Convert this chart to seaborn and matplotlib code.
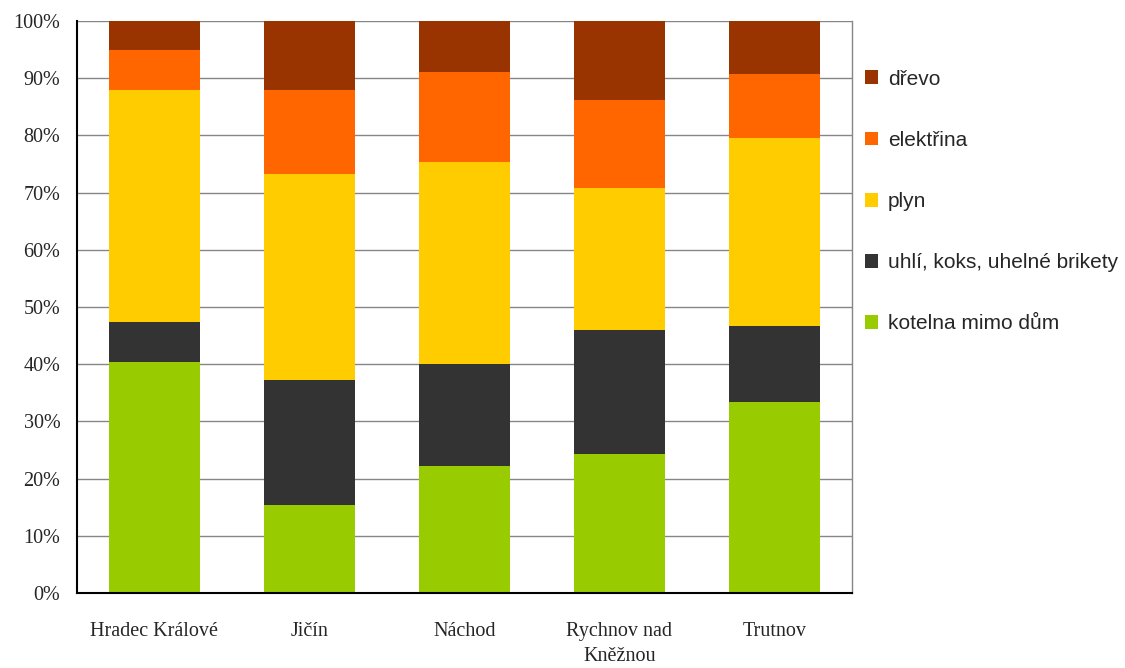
import matplotlib
matplotlib.use("Agg")
import matplotlib.pyplot as plt
import seaborn as sns
import numpy as np
import pandas as pd
from matplotlib.patches import Patch
from matplotlib.ticker import FixedLocator

categories = ["Hradec Králové", "Jičín", "Náchod", "Rychnov nad\nKněžnou", "Trutnov"]
series_names = ["kotelna mimo dům", "uhlí, koks, uhelné brikety", "plyn", "elektřina", "dřevo"]
kotelna = [40.4, 15.4, 22.2, 24.3, 33.4]
uhli = [7.0, 21.8, 17.8, 21.7, 13.3]
plyn = [40.5, 36.1, 35.3, 24.8, 32.8]
elektrina = [7.0, 14.6, 15.8, 15.4, 11.2]
drevo = [5.1, 12.1, 8.9, 13.8, 9.3]
colors = ["#99CC00", "#333333", "#FFCC00", "#FF6600", "#993300"]
yticks = [0, 10, 20, 30, 40, 50, 60, 70, 80, 90, 100]
ytick_labels = [f"{v}%" for v in yticks]

sns.set_theme(style="white")
serif = ["Liberation Serif", "DejaVu Serif"]
sans = ["Liberation Sans", "DejaVu Sans"]

series = [kotelna, uhli, plyn, elektrina, drevo]
cum = np.cumsum(np.array(series), axis=0)

fig = plt.figure(figsize=(11.25, 6.68), dpi=100)
ax = fig.add_axes([77/1125, 75/668, (852-77)/1125, (593-21)/668])

for i in range(len(series) - 1, -1, -1):
    df = pd.DataFrame({"cat": categories, "val": cum[i]})
    sns.barplot(data=df, x="cat", y="val", color=colors[i], width=0.59,
                saturation=1, ax=ax, linewidth=0, zorder=2)

ax.set_ylim(0, 100)
ax.set_xlim(-0.5, len(categories) - 0.5)
ax.set_yticks(yticks)
ax.set_yticklabels(ytick_labels, fontfamily=serif, fontsize=14.5)
ax.yaxis.grid(True, color="#868686", linewidth=1, zorder=0)
ax.set_axisbelow(True)
ax.set_xlabel("")
ax.set_ylabel("")
ax.set_xticks(range(len(categories)))
ax.set_xticklabels(categories, fontfamily=serif, fontsize=14.5, linespacing=1.4)
ax.tick_params(axis="x", which="major", length=0, pad=21)
ax.xaxis.set_minor_locator(FixedLocator(np.arange(-0.5, len(categories), 1.0)))
ax.tick_params(axis="x", which="minor", length=6, width=1, color="#868686", direction="out")
ax.tick_params(axis="y", length=5, width=1.2, color="black", direction="out", pad=7)

for s in ["left", "bottom"]:
    ax.spines[s].set_color("black")
    ax.spines[s].set_linewidth(1.5)
ax.spines["right"].set_color("#868686")
ax.spines["right"].set_linewidth(1)
ax.spines["top"].set_visible(False)

handles = [Patch(facecolor=colors[i], edgecolor="none") for i in range(len(series) - 1, -1, -1)]
labels = [series_names[i] for i in range(len(series) - 1, -1, -1)]
fig.legend(handles, labels, loc="upper left", bbox_to_anchor=(846/1125, 1 - 51/668),
           frameon=False, prop={"family": sans, "size": 15}, labelspacing=2.02,
           handlelength=0.65, handleheight=0.65, handletextpad=0.45)

fig.savefig("out.png", dpi=100)
